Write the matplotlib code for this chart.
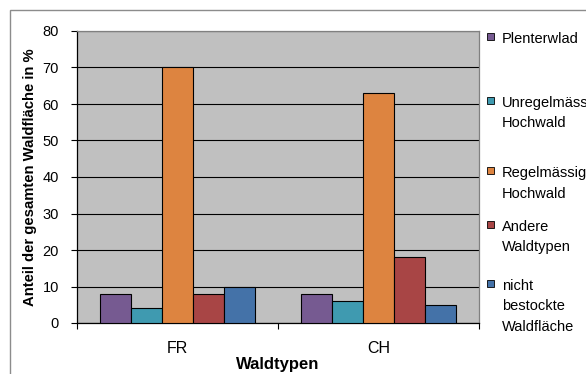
import matplotlib.pyplot as plt
import numpy as np
from matplotlib.patches import Rectangle

plt.rcParams['font.family'] = ['Liberation Sans', 'DejaVu Sans']

# data
categories = ["FR", "CH"]
series_names = ["Plenterwlad", "Unregelmässiger\nHochwald", "Regelmässiger\nHochwald",
                "Andere\nWaldtypen", "nicht\nbestockte\nWaldfläche"]
plenterwald = [8, 8]
unregelmaessig = [4, 6]
regelmaessig = [70, 63]
andere = [8, 18]
nicht_bestockt = [10, 5]
colors = ["#765A91", "#3F9AB0", "#DD8440", "#A84545", "#4472A8"]

values = [plenterwald, unregelmaessig, regelmaessig, andere, nicht_bestockt]

W, H = 586, 374
fig = plt.figure(figsize=(W / 100, H / 100), dpi=100)

# outer chart frame (Excel style)
fig.patches.append(Rectangle((10 / W, -0.1), 1.2, 1 - 10 / H + 0.1, transform=fig.transFigure,
                             fill=False, edgecolor="#8c8c8c", linewidth=1.0))

ax = fig.add_axes([77 / W, 1 - 323 / H, 402 / W, 292 / H])
ax.set_facecolor("#C0C0C0")

x = np.arange(len(categories))
bw = 0.154
for i, (vals, c) in enumerate(zip(values, colors)):
    ax.bar(x + (i - 2) * bw, vals, bw, color=c, edgecolor="black", linewidth=0.8, zorder=3)

ax.set_ylim(0, 80)
ax.set_yticks(range(0, 81, 10))
ax.yaxis.grid(True, color="black", linewidth=0.8, zorder=1)
ax.set_xlim(-0.5, 1.5)
ax.set_xticks([-0.5, 0.5, 1.5])
ax.set_xticklabels([])
ax.set_xticks(x, minor=True)
ax.set_xticklabels(categories, minor=True)
ax.tick_params(axis="x", which="minor", length=0, labelsize=11.5, pad=13)
ax.tick_params(axis="x", which="major", length=4, direction="out", width=0.8)
ax.tick_params(axis="y", length=4, direction="out", width=0.8, labelsize=10.5, pad=9)

for s in ["left", "bottom"]:
    ax.spines[s].set_color("black")
    ax.spines[s].set_linewidth(0.9)
for s in ["top", "right"]:
    ax.spines[s].set_color("#808080")
    ax.spines[s].set_linewidth(0.9)

ax.set_ylabel("Anteil der gesamten Waldfläche in %", fontsize=10.7, fontweight="bold", labelpad=4)
ax.set_xlabel("Waldtypen", fontsize=12, fontweight="bold", labelpad=1)

# legend drawn by hand so the entries sit like in the original
first_baselines = [43, 107, 177, 231, 290]
line_step = 20.5
for name, c, yb in zip(series_names, colors, first_baselines):
    fig.patches.append(Rectangle((487 / W, 1 - 40 / H - (yb - 43) / H), 7 / W, 7 / H,
                                 transform=fig.transFigure, facecolor=c,
                                 edgecolor="black", linewidth=0.6))
    for k, line in enumerate(name.split("\n")):
        fig.text(502 / W, 1 - (yb + k * line_step) / H, line, fontsize=10.5,
                 va="baseline", ha="left")

fig.savefig("out.png", dpi=100)
